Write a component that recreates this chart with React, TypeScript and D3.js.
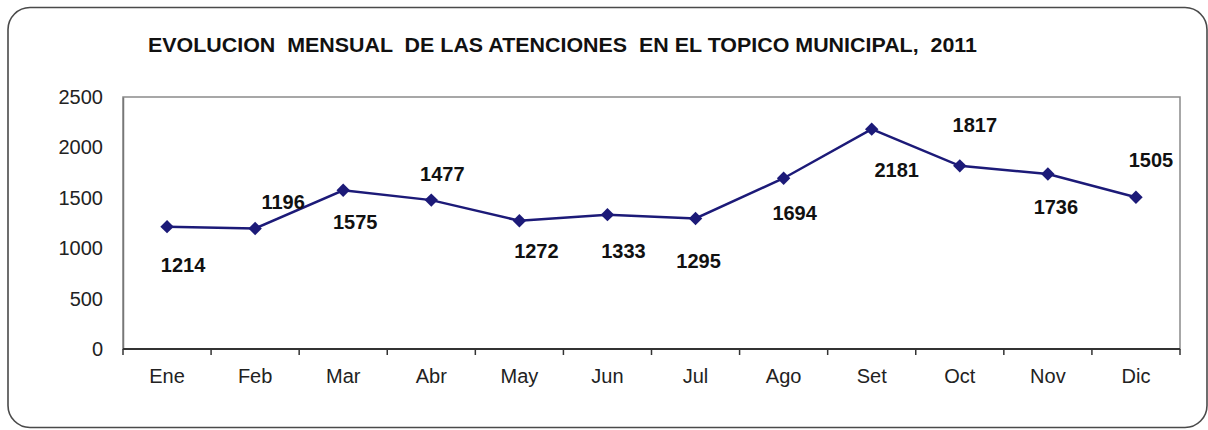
import React, { useEffect, useRef } from 'react';
import * as d3 from 'd3';

// data
const months = ['Ene', 'Feb', 'Mar', 'Abr', 'May', 'Jun', 'Jul', 'Ago', 'Set', 'Oct', 'Nov', 'Dic'];
const atenciones = [1214, 1196, 1575, 1477, 1272, 1333, 1295, 1694, 2181, 1817, 1736, 1505];
const yTicks = [0, 500, 1000, 1500, 2000, 2500];
const title = 'EVOLUCION  MENSUAL  DE LAS ATENCIONES  EN EL TOPICO MUNICIPAL,  2011';

// where each value label sits relative to its marker (layout only)
const labelOffsets: [number, number][] = [
  [16, 38], [28, -26], [12, 32], [11, -26], [17, 30], [16, 36],
  [3, 43], [11, 35], [25, 41], [15, -41], [8, 33], [15, -37],
];

const W = 1208, H = 430;
const plot = { left: 123, right: 1180, top: 97, bottom: 349 };
const lineColor = '#1c1a78';
const font = 'Arial, "Liberation Sans", sans-serif';

const App = () => {
  const svgRef = useRef<SVGSVGElement>(null);

  useEffect(() => {
    const svg = d3.select(svgRef.current);
    svg.selectAll('*').remove();

    // outer rounded frame
    svg.append('rect')
      .attr('x', 8).attr('y', 7.5)
      .attr('width', 1199).attr('height', 420)
      .attr('rx', 22)
      .attr('fill', '#fff')
      .attr('stroke', '#4a4a4a')
      .attr('stroke-width', 1.6);

    svg.append('text')
      .attr('x', 148).attr('y', 52)
      .attr('textLength', 829)
      .attr('lengthAdjust', 'spacingAndGlyphs')
      .style('white-space', 'pre')
      .attr('font-family', font)
      .attr('font-weight', 'bold')
      .attr('font-size', 20)
      .attr('fill', '#111')
      .text(title);

    const x = d3.scaleBand<string>().domain(months).range([plot.left, plot.right]).padding(0);
    const y = d3.scaleLinear().domain([0, 2500]).range([plot.bottom, plot.top]);

    // plot area box (top and right in light grey)
    svg.append('rect')
      .attr('x', plot.left).attr('y', plot.top)
      .attr('width', plot.right - plot.left).attr('height', plot.bottom - plot.top)
      .attr('fill', '#fff')
      .attr('stroke', '#8a8a8a')
      .attr('stroke-width', 1.5);

    // y axis
    const yAxis = svg.append('g')
      .attr('transform', `translate(${plot.left},0)`)
      .call(d3.axisLeft(y).tickValues(yTicks).tickFormat(d3.format('d')).tickSize(0).tickPadding(20));
    yAxis.select('.domain').attr('stroke', '#777').attr('stroke-width', 1.5);
    yAxis.selectAll('text')
      .attr('font-family', font).attr('font-size', 20).attr('fill', '#222');

    // x axis: ticks on category boundaries
    const xAxis = svg.append('g').attr('transform', `translate(0,${plot.bottom})`);
    xAxis.append('line')
      .attr('x1', plot.left).attr('x2', plot.right)
      .attr('stroke', '#333').attr('stroke-width', 2);
    const bounds = months.map(m => x(m) as number).concat([plot.right]);
    xAxis.selectAll('line.tick')
      .data(bounds)
      .join('line')
      .attr('class', 'tick')
      .attr('x1', d => d).attr('x2', d => d)
      .attr('y1', 0).attr('y2', 6)
      .attr('stroke', '#333').attr('stroke-width', 1.5);
    xAxis.selectAll('text')
      .data(months)
      .join('text')
      .attr('x', d => (x(d) as number) + x.bandwidth() / 2)
      .attr('y', 34)
      .attr('text-anchor', 'middle')
      .attr('font-family', font).attr('font-size', 20).attr('fill', '#222')
      .text(d => d);

    const cx = (i: number) => (x(months[i]) as number) + x.bandwidth() / 2;

    const line = d3.line<number>()
      .x((_, i) => cx(i))
      .y(d => y(d));

    svg.append('path')
      .datum(atenciones)
      .attr('d', line)
      .attr('fill', 'none')
      .attr('stroke', lineColor)
      .attr('stroke-width', 2.5);

    const diamond = d3.symbol().type(d3.symbolDiamond2).size(115);
    svg.selectAll('path.pt')
      .data(atenciones)
      .join('path')
      .attr('class', 'pt')
      .attr('d', diamond)
      .attr('transform', (d, i) => `translate(${cx(i)},${y(d)})`)
      .attr('fill', lineColor);

    svg.selectAll('text.val')
      .data(atenciones)
      .join('text')
      .attr('class', 'val')
      .attr('x', (d, i) => cx(i) + labelOffsets[i][0])
      .attr('y', (d, i) => y(d) + labelOffsets[i][1])
      .attr('dy', '0.35em')
      .attr('text-anchor', 'middle')
      .attr('font-family', font)
      .attr('font-weight', 'bold')
      .attr('font-size', 20)
      .attr('fill', '#111')
      .text(d => d);
  }, []);

  return (
    <svg
      ref={svgRef}
      width={W}
      height={H}
      style={{ position: 'absolute', left: 0, top: 0, background: '#fff' }}
    />
  );
};

export default App;
